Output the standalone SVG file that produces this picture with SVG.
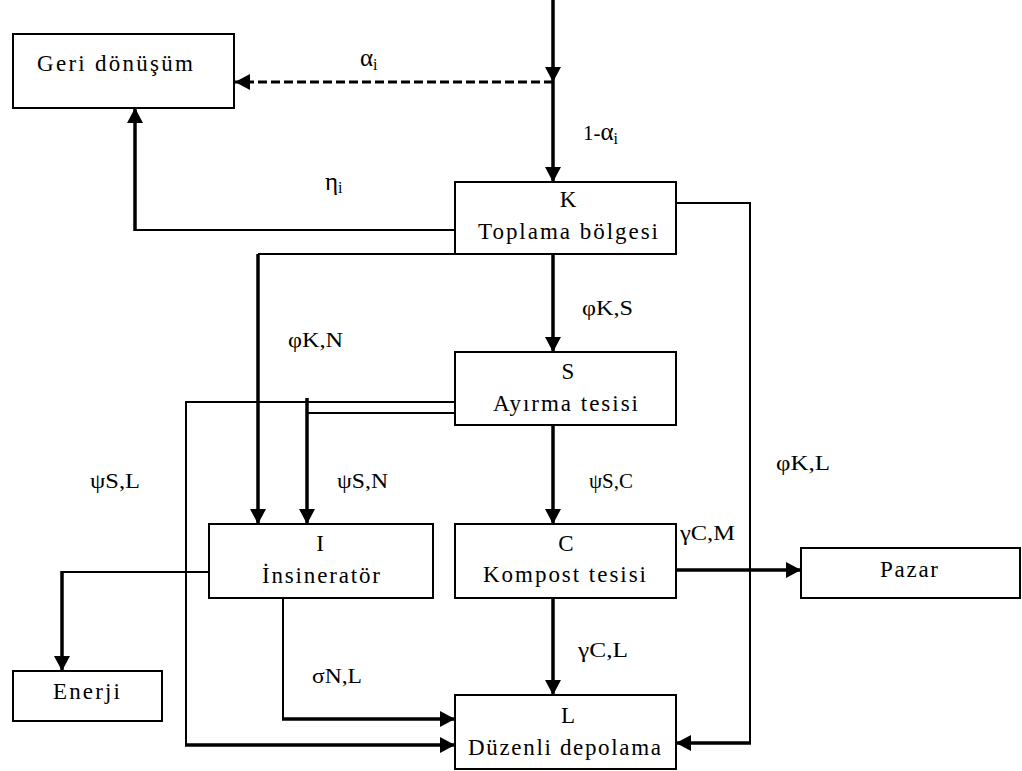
<svg xmlns="http://www.w3.org/2000/svg" width="1022" height="771" viewBox="0 0 1022 771">
<style>
.box{fill:#fff;stroke:#000;stroke-width:2}
.t{font-family:"Liberation Serif","Times New Roman",serif;font-size:23px;fill:#000}
.lb{font-family:"Liberation Serif","Times New Roman",serif;font-size:21px;fill:#000}
.thin{fill:none;stroke:#000;stroke-width:2}
.thick{fill:none;stroke:#000;stroke-width:3.5}
.dash{fill:none;stroke:#000;stroke-width:3;stroke-dasharray:9 4}
.gk{font-size:25px}
.sub{font-size:16px}
</style>
<defs>
<marker id="ah" markerUnits="userSpaceOnUse" markerWidth="17" markerHeight="17" refX="15" refY="8" orient="auto">
<path d="M0,0 L15,8 L0,16 z" fill="#000"/>
</marker>
</defs>
<rect width="1022" height="771" fill="#fff"/>
<g id="connectors">
<path class="thick" d="M553,0 V182" marker-end="url(#ah)"/>
<polygon points="545,67 561,67 553,82" fill="#000"/>
<path class="dash" d="M553,82 H235" marker-end="url(#ah)"/>
<path class="thin" d="M455,230 H135"/>
<path class="thick" d="M135,231 V108" marker-end="url(#ah)"/>
<path class="thin" d="M676,203 H750 V743"/>
<path class="thick" d="M751,743 H676" marker-end="url(#ah)"/>
<path class="thick" d="M553,254 V352" marker-end="url(#ah)"/>
<path class="thin" d="M455,254 H258"/>
<path class="thick" d="M258,254 V524" marker-end="url(#ah)"/>
<path class="thin" d="M455,402 H186 V745"/>
<path class="thick" d="M185,745 H455" marker-end="url(#ah)"/>
<path class="thin" d="M455,413 H307"/>
<path class="thick" d="M307,398 V524" marker-end="url(#ah)"/>
<path class="thick" d="M553,425 V524" marker-end="url(#ah)"/>
<path class="thin" d="M209,572 H62"/>
<path class="thick" d="M62,571 V671" marker-end="url(#ah)"/>
<path class="thin" d="M283,598 V719"/>
<path class="thick" d="M282,719 H455" marker-end="url(#ah)"/>
<path class="thick" d="M676,570 H801" marker-end="url(#ah)"/>
<path class="thick" d="M553,598 V695" marker-end="url(#ah)"/>
</g>
<g id="labels">
<text class="lb" x="360" y="66"><tspan class="gk">α</tspan><tspan class="sub" dy="4">i</tspan></text>
<text class="lb" x="583" y="140">1-<tspan class="gk">α</tspan><tspan class="sub" dy="4">i</tspan></text>
<text class="lb" x="325" y="190"><tspan class="gk">η</tspan><tspan class="sub" dy="3">i</tspan></text>
<text class="lb" x="582" y="315" textLength="51" lengthAdjust="spacingAndGlyphs">φK,S</text>
<text class="lb" x="288" y="347" textLength="55" lengthAdjust="spacingAndGlyphs">φK,N</text>
<text class="lb" x="90" y="488" textLength="50" lengthAdjust="spacingAndGlyphs">ψS,L</text>
<text class="lb" x="337" y="488" textLength="51" lengthAdjust="spacingAndGlyphs">ψS,N</text>
<text class="lb" x="589" y="488" textLength="44" lengthAdjust="spacingAndGlyphs">ψS,C</text>
<text class="lb" x="776" y="470" textLength="54" lengthAdjust="spacingAndGlyphs">φK,L</text>
<text class="lb" x="680" y="540" textLength="55" lengthAdjust="spacingAndGlyphs">γC,M</text>
<text class="lb" x="578" y="657" textLength="50" lengthAdjust="spacingAndGlyphs">γC,L</text>
<text class="lb" x="312" y="683" textLength="50" lengthAdjust="spacingAndGlyphs">σN,L</text>
</g>
<g id="geri">
<rect class="box" x="13" y="34" width="221" height="74"/>
<text class="t" x="115" y="71" text-anchor="middle" textLength="156" lengthAdjust="spacing">Geri dönüşüm</text>
</g>
<g id="K">
<rect class="box" x="455" y="182" width="221" height="72"/>
<text class="t" x="568" y="207" text-anchor="middle">K</text>
<text class="t" x="568" y="239" text-anchor="middle" textLength="180" lengthAdjust="spacing">Toplama bölgesi</text>
</g>
<g id="S">
<rect class="box" x="455" y="352" width="221" height="73"/>
<text class="t" x="568" y="379" text-anchor="middle">S</text>
<text class="t" x="565.5" y="411" text-anchor="middle" textLength="145" lengthAdjust="spacing">Ayırma tesisi</text>
</g>
<g id="I">
<rect class="box" x="209" y="524" width="224" height="74"/>
<text class="t" x="320" y="551" text-anchor="middle">I</text>
<text class="t" x="321" y="583" text-anchor="middle" textLength="118" lengthAdjust="spacing">İnsineratör</text>
</g>
<g id="C">
<rect class="box" x="455" y="524" width="221" height="74"/>
<text class="t" x="566" y="551" text-anchor="middle">C</text>
<text class="t" x="564.5" y="582" text-anchor="middle" textLength="163" lengthAdjust="spacing">Kompost tesisi</text>
</g>
<g id="pazar">
<rect class="box" x="801" y="548" width="219" height="50"/>
<text class="t" x="909" y="577" text-anchor="middle" textLength="58" lengthAdjust="spacing">Pazar</text>
</g>
<g id="enerji">
<rect class="box" x="13" y="671" width="149" height="50"/>
<text class="t" x="86.5" y="699" text-anchor="middle" textLength="67" lengthAdjust="spacing">Enerji</text>
</g>
<g id="L">
<rect class="box" x="455" y="695" width="221" height="74"/>
<text class="t" x="568" y="723" text-anchor="middle">L</text>
<text class="t" x="564.5" y="755" text-anchor="middle" textLength="193" lengthAdjust="spacing">Düzenli depolama</text>
</g>
</svg>
